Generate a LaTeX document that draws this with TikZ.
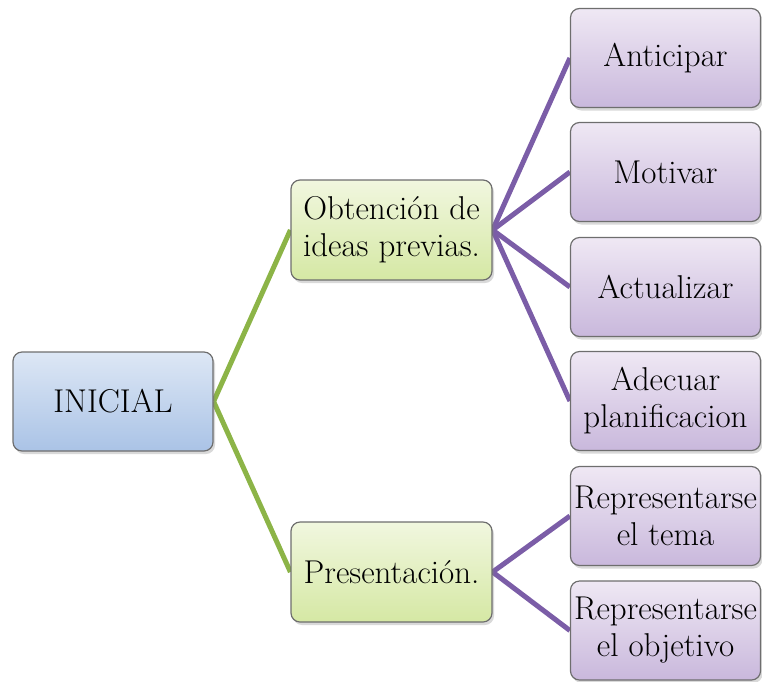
\documentclass[tikz,border=0pt]{standalone}
\usepackage{fontspec}
\usetikzlibrary{shadows}
\pgfdeclarelayer{links}
\pgfsetlayers{links,main}
\definecolor{edgegray}{HTML}{6E6E6E}
\definecolor{blueTop}{HTML}{DDE7F5}
\definecolor{blueBot}{HTML}{AAC3E6}
\definecolor{greenTop}{HTML}{F1F7DF}
\definecolor{greenBot}{HTML}{D5E8A4}
\definecolor{purpTop}{HTML}{EFE8F4}
\definecolor{purpBot}{HTML}{C9B8DC}
\definecolor{greenLine}{HTML}{8CB447}
\definecolor{purpLine}{HTML}{7B5DA7}
\tikzset{
  box/.style={draw=edgegray, line width=1.2pt, rounded corners=9pt,
    align=center, inner sep=1pt,
    font=\rmfamily\fontsize{33}{37}\selectfont,
    drop shadow={shadow xshift=2pt, shadow yshift=-3pt, opacity=0.3, fill=gray}},
  rootbox/.style={box, top color=blueTop, bottom color=blueBot,
    minimum width=200pt, minimum height=99pt},
  midbox/.style={box, top color=greenTop, bottom color=greenBot,
    minimum width=201pt, minimum height=100pt},
  leafbox/.style={box, top color=purpTop, bottom color=purpBot,
    minimum width=190pt, minimum height=99pt},
  greenlink/.style={draw=greenLine, line width=5pt},
  purplink/.style={draw=purpLine, line width=5pt},
}
\begin{document}
\begin{tikzpicture}[x=1pt,y=-1pt]
\useasboundingbox (0,0) rectangle (762,681);

% root
\node[rootbox] (ini) at (113,401.5) {INICIAL};

% second level
\node[midbox] (obt) at (391.5,230) {Obtención de\\ideas previas.};
\node[midbox] (pre) at (391.5,572) {Presentación.};

% leaves
\node[leafbox] (a1) at (665.5,58)  {Anticipar};
\node[leafbox] (a2) at (665.5,172) {Motivar};
\node[leafbox] (a3) at (665.5,287) {Actualizar};
\node[leafbox] (a4) at (665.5,401) {Adecuar\\planificacion};
\node[leafbox] (b1) at (665.5,516) {Representarse\\el tema};
\node[leafbox] (b2) at (665.5,630.5) {Representarse\\el objetivo};

% connectors, kept behind the boxes
\begin{pgfonlayer}{links}
\draw[greenlink] (ini.east) -- (obt.west);
\draw[greenlink] (ini.east) -- (pre.west);
\foreach \n in {a1,a2,a3,a4} \draw[purplink] (obt.east) -- (\n.west);
\foreach \n in {b1,b2} \draw[purplink] (pre.east) -- (\n.west);
\end{pgfonlayer}
\end{tikzpicture}
\end{document}
